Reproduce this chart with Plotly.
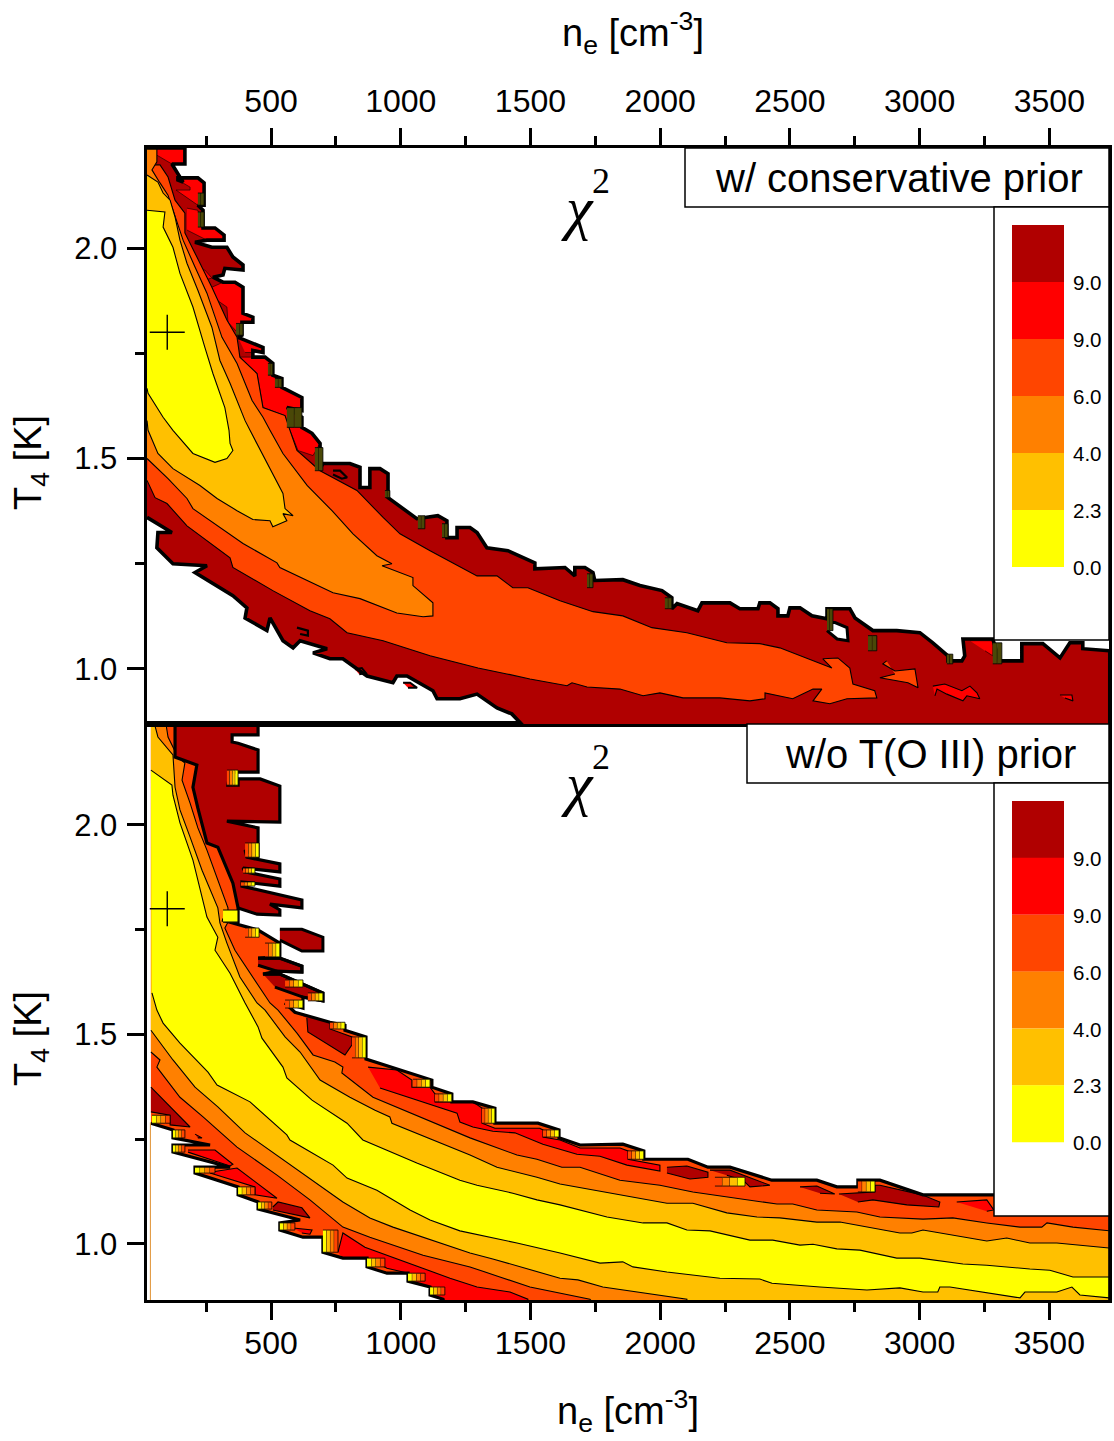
import plotly.graph_objects as go

# ---------- readings from the figure: (n_e, T4) outlines of each chi-square region ----------
NE_RANGE = [20, 3730]
T_RANGE_TOP = [0.869, 2.238]
T_RANGE_BOT = [0.866, 2.241]
COLORS = ["#B00000", "#FF0000", "#FF4500", "#FF8000", "#FFC000", "#FFFF00"]
LEGEND_LABELS = ["9.0", "9.0", "6.0", "4.0", "2.3", "0.0"]
X_TICKS = [500, 1000, 1500, 2000, 2500, 3000, 3500]
Y_TICKS = [1.0, 1.5, 2.0]
CROSS_NE = [100]
CROSS_T = [1.8]

TOP_OUTER = [(22,2.238),(168,2.238),(168,2.200),(118,2.200),(161,2.157),(141,2.162),(141,2.167),(218,2.167),(242,2.155),(242,2.102),
 (218,2.102),(238,2.090),(238,2.048),(284,2.048),(319,2.031),(319,2.019),(253,2.019),(207,2.014),(272,2.002),(330,2.002),(353,1.979),
 (392,1.960),(392,1.948),(322,1.952),(315,1.936),(276,1.931),(315,1.919),(361,1.919),(392,1.907),(392,1.845),(430,1.836),(430,1.824),
 (388,1.824),(388,1.793),(373,1.788),(469,1.764),(469,1.752),(430,1.757),(430,1.741),(477,1.741),(507,1.726),(507,1.698),(542,1.690),
 (542,1.669),(619,1.645),(619,1.614),(561,1.621),(619,1.598),(619,1.574),(658,1.560),(689,1.536),(689,1.476),(700,1.488),(804,1.488),
 (843,1.479),(843,1.431),(881,1.431),(881,1.476),(920,1.476),(951,1.464),(951,1.407),(1062,1.357),(1143,1.364),(1178,1.352),(1178,1.312),
 (1217,1.312),(1217,1.336),(1267,1.336),(1294,1.324),(1332,1.288),(1413,1.281),(1517,1.252),(1517,1.238),(1633,1.241),(1671,1.221),
 (1671,1.241),(1710,1.241),(1741,1.229),(1748,1.210),(1856,1.212),(1922,1.198),(2007,1.186),(2045,1.169),(2045,1.143),(2065,1.155),
 (2145,1.138),(2161,1.157),(2269,1.157),(2307,1.143),(2377,1.143),(2384,1.157),(2423,1.157),(2454,1.143),(2454,1.126),(2492,1.126),
 (2500,1.145),(2539,1.145),(2585,1.126),(2643,1.119),(2643,1.143),(2731,1.143),(2751,1.121),(2820,1.091),(2912,1.091),(3001,1.086),
 (3051,1.062),(3109,1.031),(3109,1.019),(3163,1.019),(3174,1.031),(3167,1.071),(3282,1.071),(3309,1.019),(3394,1.019),(3394,1.060),
 (3475,1.060),(3541,1.026),(3579,1.062),(3629,1.062),(3629,1.048),(3733,1.043),(3733,0.84),(1510,0.84),(1428,0.893),(1371,0.907),
 (1294,0.940),(1228,0.929),(1140,0.929),(1124,0.948),(1024,0.983),(985,0.983),(970,0.967),(870,0.983),(777,1.024),(727,1.024),
 (662,1.038),(716,1.048),(612,1.067),(585,1.050),(546,1.067),(496,1.121),(484,1.091),(400,1.121),(407,1.145),(353,1.174),(207,1.229),
 (253,1.245),(122,1.250),(60,1.288),(64,1.324),(118,1.324),(22,1.360)]
TOP_RED_A = [(60,2.238),(168,2.238),(168,2.200),(118,2.200),(60,2.221)]
TOP_RED_B = [(141,2.167),(218,2.167),(242,2.155),(242,2.102),(218,2.102),(134,2.138),(188,2.138),(188,2.145),(141,2.162)]
TOP_RED_C = [(176,2.095),(218,2.090),(234,2.048),(284,2.048),(319,2.031),(319,2.019),(253,2.019),(176,2.043)]
TOP_RED_D = [(272,1.907),(315,1.919),(361,1.919),(392,1.907),(392,1.845),(430,1.836),(430,1.824),(388,1.824),(373,1.798),(334,1.824),(330,1.860),(276,1.883)]
TOP_RED_E = [(373,1.788),(469,1.764),(469,1.752),(400,1.752)]
TOP_RED_F = [(380,1.741),(477,1.741),(507,1.726),(507,1.698),(542,1.690),(542,1.669),(619,1.645),(619,1.614),(561,1.621),(619,1.598),
 (619,1.574),(658,1.560),(689,1.536),(662,1.507),(604,1.519),(573,1.567),(554,1.602),(469,1.621),(446,1.702)]
TOP_RED_G = [(203,1.948),(245,1.948),(272,1.929),(245,1.924)]
TOP_RED_H = [(3194,1.067),(3282,1.067),(3282,1.031),(3252,1.043)]
TOP_ORANGERED = [(41,2.198),(72,2.198),(103,2.169),(130,2.114),(168,2.083),(168,2.036),(207,1.988),(245,1.940),(272,1.907),(330,1.829),
 (369,1.788),(380,1.741),(446,1.702),(469,1.621),(554,1.602),(573,1.567),(600,1.519),(689,1.471),(831,1.424),(932,1.360),(997,1.321),
 (1113,1.281),(1228,1.243),(1294,1.221),(1371,1.221),(1432,1.193),(1490,1.193),(1614,1.162),(1741,1.136),(1856,1.126),(1968,1.098),
 (2103,1.086),(2257,1.062),(2384,1.060),(2461,1.050),(2539,1.031),(2662,1.002),(2627,1.024),(2685,1.026),(2731,1.002),(2743,0.964),
 (2827,0.948),(2835,0.931),(2720,0.929),(2654,0.917),(2589,0.924),(2623,0.952),(2589,0.952),(2511,0.929),(2404,0.943),(2404,0.929),
 (2346,0.924),(2230,0.931),(2088,0.931),(1999,0.943),(1934,0.936),(1845,0.952),(1718,0.957),(1660,0.967),(1641,0.960),(1498,0.976),
 (1409,0.988),(1298,1.002),(1113,1.031),(932,1.067),(793,1.086),(727,1.119),(650,1.138),(507,1.186),(353,1.241),(342,1.264),(176,1.340),
 (99,1.393),(53,1.407),(22,1.448)]
TOP_ORANGE = [(22,2.238),(60,2.238),(60,2.205),(41,2.186),(72,2.155),(103,2.126),(118,2.098),(161,2.019),(207,1.955),(253,1.893),(311,1.788),
 (369,1.726),(427,1.638),(469,1.598),(496,1.567),(546,1.512),(639,1.436),(735,1.376),(816,1.321),(908,1.269),(966,1.250),(928,1.245),
 (1047,1.217),(1047,1.198),(1124,1.157),(1124,1.126),(1086,1.124),(985,1.133),(843,1.167),(739,1.181),(534,1.241),(523,1.252),(392,1.298),
 (303,1.336),(199,1.381),(176,1.405),(103,1.452),(22,1.500)]
TOP_GOLD = [(22,2.174),(64,2.157),(84,2.131),(111,2.114),(130,2.074),(149,2.019),(176,1.964),(218,1.900),(272,1.812),(303,1.733),(342,1.679),
 (400,1.590),(419,1.567),(484,1.491),(546,1.417),(554,1.381),(585,1.364),(546,1.369),(561,1.352),(507,1.338),(496,1.352),(430,1.355),
 (369,1.376),(292,1.405),(226,1.436),(122,1.476),(64,1.512),(26,1.567),(22,1.590)]
TOP_YELLOW = [(22,2.090),(91,2.086),(84,2.050),(122,2.002),(149,1.940),(199,1.860),(245,1.764),(276,1.702),(322,1.621),(338,1.567),(342,1.536),
 (353,1.519),(330,1.500),(284,1.491),(199,1.512),(122,1.567),(84,1.598),(26,1.655),(22,1.667)]
TOP_ISLE_OR = [(2873,1.019),(2858,1.012),(2905,0.995),(2982,1.000),(2994,0.955),(2955,0.967),(2847,0.979),(2905,0.988)]
TOP_ISLE_RA = [(3051,0.959),(3097,0.964),(3163,0.948),(3194,0.959),(3221,0.943),(3232,0.929),(3182,0.936),(3167,0.924),(3105,0.940),(3067,0.952),(3059,0.936)]
TOP_ISLE_RB = [(3541,0.938),(3587,0.938),(3591,0.924),(3560,0.931)]
TOP_HOLE = [(2643,1.110),(2674,1.110),(2720,1.098),(2724,1.067),(2682,1.071),(2643,1.091)]
TOP_SPOT_DARK = [[(739,1.471),(766,1.471),(793,1.455),(773,1.452),(739,1.462)], [(600,1.098),(642,1.091),(642,1.079),(612,1.083)]]
TOP_SPOT_RED = [[(823,0.999),(850,1.002),(866,0.990),(840,0.987)], [(1009,0.967),(1036,0.967),(1063,0.955),(1028,0.955)]]
# stacks of closely spaced contours on the ragged edge: (n_e left, n_e right, T upper, T lower)
TOP_STACK = [(218,242,2.131,2.102),(218,242,2.086,2.050),(365,392,1.821,1.793),(488,507,1.726,1.698),(515,542,1.690,1.669),(561,619,1.621,1.574),
 (669,700,1.526,1.471),(939,958,1.424,1.407),(1066,1093,1.364,1.333),(1159,1182,1.345,1.312),(2018,2045,1.169,1.143),(1718,1741,1.226,1.193),
 (2643,2666,1.143,1.091),(2801,2835,1.079,1.043),(3105,3128,1.035,1.012),(3282,3317,1.062,1.012)]

BOT_BASE = [(37,2.241),(130,2.241),(130,2.162),(214,2.143),(199,2.090),(218,2.040),(253,1.957),(295,1.947),(353,1.861),(373,1.802),(373,1.768),
 (311,1.773),(380,1.761),(450,1.749),(534,1.718),(534,1.685),(450,1.682),(534,1.682),(619,1.663),(619,1.649),(523,1.651),(469,1.644),
 (534,1.644),(700,1.599),(700,1.580),(623,1.589),(623,1.563),(554,1.575),(592,1.553),(727,1.529),(785,1.522),(785,1.510),(866,1.494),
 (866,1.441),(1120,1.391),(1120,1.374),(1197,1.358),(1197,1.339),(1278,1.339),(1363,1.324),(1363,1.288),(1529,1.288),(1610,1.272),
 (1610,1.253),(1691,1.236),(1856,1.238),(1937,1.222),(1937,1.202),(2107,1.202),(2184,1.183),(2269,1.183),(2430,1.152),(2604,1.152),
 (2681,1.136),(2762,1.136),(2762,1.152),(2847,1.152),(3013,1.117),(3733,1.117),(3733,0.84),(1174,0.84),(1163,0.868),(1113,0.878),
 (1113,0.897),(1028,0.911),(1028,0.930),(947,0.930),(870,0.945),(870,0.966),(777,0.966),(700,0.980),(700,1.016),(623,1.016),(534,1.033),
 (534,1.050),(612,1.057),(450,1.083),(450,1.100),(373,1.117),(373,1.136),(207,1.169),(207,1.183),(342,1.183),(122,1.219),(122,1.236),
 (265,1.236),(122,1.253),(122,1.272),(37,1.288)]
BOT_DARK_MAIN = [(130,2.241),(450,2.241),(450,2.215),(350,2.215),(350,2.198),(373,2.195),(450,2.179),(450,2.126),(342,2.126),(334,2.095),
 (373,2.095),(373,2.110),(458,2.110),(534,2.093),(534,2.007),(330,2.009),(450,1.993),(450,1.923),(400,1.940),(407,1.923),(534,1.907),
 (534,1.888),(392,1.897),(400,1.888),(534,1.871),(534,1.854),(388,1.864),(388,1.854),(619,1.821),(619,1.802),(496,1.811),(534,1.797),
 (534,1.785),(446,1.787),(373,1.802),(353,1.861),(295,1.947),(253,1.957),(218,2.040),(199,2.090),(214,2.143),(130,2.162)]
BOT_DARK_A = [(534,1.751),(619,1.751),(700,1.732),(700,1.699),(619,1.699),(534,1.725)]
BOT_DARK_B = [(450,1.682),(534,1.682),(619,1.663),(619,1.649),(523,1.651),(450,1.665)]
BOT_DARK_C = [(469,1.644),(534,1.644),(700,1.599),(700,1.580),(623,1.589),(515,1.613)]
BOT_DARK_D = [(592,1.553),(727,1.529),(727,1.513),(812,1.494),(812,1.475),(785,1.451),(642,1.506),(638,1.539)]
BOT_DARK_E = [(2026,1.183),(2103,1.186),(2184,1.171),(2184,1.159),(2115,1.155),(2026,1.169)]
BOT_DARK_F = [(2192,1.176),(2269,1.176),(2423,1.140),(2346,1.136),(2319,1.152),(2257,1.164)]
BOT_DARK_G = [(2539,1.136),(2604,1.138),(2673,1.119),(2616,1.121)]
BOT_DARK_H = [(2689,1.119),(2828,1.124),(2828,1.140),(2847,1.140),(3009,1.117),(3078,1.100),(3074,1.088),(2951,1.093),(2820,1.105),(2762,1.100)]
BOT_DARK_I = [(37,1.374),(188,1.279),(111,1.284),(111,1.307),(37,1.315)]
BOT_DARK_J = [(207,1.262),(234,1.253),(218,1.253)]
BOT_DARK_K = [(507,1.088),(527,1.100),(619,1.086),(650,1.062),(507,1.081)]
BOT_RED_A = [(874,1.422),(985,1.415),(1043,1.391),(1043,1.374),(1113,1.374),(1132,1.358),(1132,1.339),(1278,1.339),(1313,1.324),(1313,1.288),
 (1363,1.276),(1536,1.276),(1548,1.272),(1548,1.255),(1614,1.248),(1691,1.229),(1845,1.229),(1876,1.222),(1876,1.202),(1999,1.188),
 (1999,1.174),(1872,1.188),(1768,1.209),(1679,1.214),(1548,1.238),(1440,1.265),(1355,1.269),(1278,1.279),(1228,1.291),(1217,1.312),(920,1.372)]
BOT_RED_B = [(180,1.224),(284,1.224),(353,1.190),(342,1.186),(180,1.219)]
BOT_RED_C = [(265,1.171),(369,1.181),(523,1.109),(438,1.117),(438,1.136),(265,1.169)]
BOT_RED_D = [(585,1.038),(658,1.033),(650,1.023),(619,1.026)]
BOT_RED_E = [(758,0.980),(777,1.026),(862,0.992),(997,0.962),(1190,0.918),(1294,0.897),(1421,0.885),(1490,0.868),(1490,0.84),(1163,0.84),
 (1163,0.868),(1113,0.878),(1113,0.897),(1028,0.911),(1028,0.930),(947,0.942),(870,0.966),(777,0.966)]
BOT_RED_F = [(3143,1.100),(3259,1.105),(3286,1.081),(3259,1.078)]
BOT_ORANGE = [(37,2.241),(95,2.241),(103,2.210),(122,2.184),(141,2.162),(168,2.148),(157,2.107),(188,2.052),(218,1.993),(253,1.940),(334,1.802),
 (334,1.768),(322,1.754),(361,1.701),(438,1.630),(496,1.575),(527,1.558),(600,1.503),(662,1.451),(746,1.434),(777,1.422),(773,1.408),
 (893,1.350),(1267,1.253),(1448,1.212),(1525,1.202),(1621,1.183),(1691,1.183),(1845,1.152),(1999,1.140),(2126,1.124),(2334,1.105),
 (2450,1.095),(2511,1.095),(2604,1.081),(2758,1.076),(2847,1.064),(3013,1.059),(3128,1.062),(3259,1.050),(3387,1.040),(3471,1.040),
 (3491,1.050),(3591,1.040),(3733,1.031),(3733,0.84),(1768,0.84),(1729,0.868),(1498,0.897),(1382,0.921),(1267,0.945),(1086,0.973),
 (881,1.016),(777,1.040),(650,1.105),(523,1.164),(369,1.231),(238,1.303),(149,1.350),(60,1.422),(72,1.439),(37,1.458)]
BOT_GOLD = [(37,2.241),(53,2.236),(64,2.210),(122,2.167),(130,2.090),(149,2.036),(188,1.971),(234,1.892),(295,1.802),(303,1.766),(330,1.718),
 (380,1.637),(446,1.575),(477,1.558),(554,1.494),(612,1.458),(689,1.391),(804,1.350),(901,1.319),(958,1.303),(966,1.288),(1267,1.212),
 (1371,1.183),(1525,1.159),(1614,1.143),(1856,1.117),(2026,1.097),(2126,1.097),(2257,1.074),(2373,1.064),(2461,1.062),(2604,1.052),
 (2693,1.052),(2924,1.026),(2970,1.026),(3013,1.033),(3259,1.007),(3336,1.014),(3425,1.002),(3529,1.002),(3733,0.990),(3733,0.84),
 (2103,0.84),(2103,0.868),(2049,0.873),(1779,0.897),(1683,0.914),(1614,0.918),(1355,0.964),(1267,0.978),(970,1.040),(881,1.062),
 (777,1.100),(658,1.152),(496,1.224),(400,1.265),(295,1.327),(207,1.374),(122,1.439),(37,1.510)]
BOT_YELLOW = [(37,2.131),(118,2.095),(122,2.071),(149,2.005),(199,1.916),(245,1.804),(253,1.780),(295,1.732),(284,1.701),(342,1.646),(400,1.575),
 (450,1.518),(465,1.491),(546,1.422),(561,1.396),(658,1.343),(793,1.288),(854,1.248),(1062,1.193),(1228,1.152),(1294,1.140),(1432,1.121),
 (1525,1.105),(1614,1.093),(1795,1.064),(1934,1.050),(2026,1.050),(2103,1.033),(2192,1.031),(2346,1.009),(2434,1.009),(2539,0.997),
 (2589,0.999),(2681,0.988),(2770,0.985),(2912,0.966),(3001,0.966),(3167,0.952),(3259,0.949),(3425,0.940),(3502,0.937),(3591,0.921),
 (3733,0.921),(3733,0.871),(3618,0.878),(3587,0.897),(3529,0.885),(3406,0.885),(3387,0.871),(3117,0.897),(3078,0.897),(3070,0.885),
 (3013,0.885),(2924,0.895),(2797,0.890),(2616,0.897),(2431,0.906),(2384,0.916),(2230,0.918),(2026,0.933),(1895,0.945),(1856,0.957),
 (1768,0.954),(1614,0.978),(1448,1.002),(1228,1.031),(1113,1.057),(1036,1.081),(985,1.100),(908,1.128),(793,1.157),(758,1.176),
 (739,1.188),(639,1.224),(573,1.248),(561,1.260),(419,1.339),(292,1.379),(257,1.410),(149,1.479),(84,1.527),(60,1.558),(41,1.599)]
# stepped stacks of contours along the ragged edge: (n_e left, n_e right, T upper, T lower)
BOT_STACK_LOWER = [(41,111,1.307,1.288),(122,168,1.272,1.253),(122,168,1.236,1.219),(207,284,1.183,1.169),(373,438,1.136,1.117),
 (450,503,1.100,1.083),(534,592,1.050,1.033),(700,758,1.033,0.980),(870,939,0.966,0.945),(1028,1094,0.930,0.911),(1113,1170,0.897,0.878)]
BOT_STACK_UPPER = [(727,785,1.529,1.513),(812,866,1.494,1.444),(1047,1113,1.393,1.374),(1132,1197,1.358,1.339),(1313,1363,1.324,1.288),
 (1548,1610,1.272,1.255),(1876,1937,1.222,1.202),(2762,2828,1.150,1.124),(2211,2327,1.159,1.138),(330,373,2.131,2.095),(400,454,1.957,1.923),
 (392,438,1.897,1.885),(384,438,1.864,1.854),(400,454,1.754,1.732),(477,534,1.718,1.685),(554,623,1.630,1.613),(642,700,1.599,1.580),(554,623,1.582,1.563)]
BOT_YELLOW_BOX = [(315,1.797),(373,1.797),(373,1.768),(315,1.768)]
BOT_EDGE_NE = [35, 35]
BOT_EDGE_T = [1.29, 0.86]

# ---------- layout constants (pixels of the 1114 x 1441 page) ----------
W, H = 1114, 1441
def px(x): return x / W
def py(y): return 1 - y / H
FONT = "Liberation Sans, Arial, sans-serif"
SERIF = "Liberation Serif, Times New Roman, serif"

fig = go.Figure()

def poly(pts, color, xa, ya, lw=1.1):
    fig.add_trace(go.Scatter(x=[p[0] for p in pts], y=[p[1] for p in pts], mode="lines", fill="toself", fillcolor=color,
                             line=dict(color="black", width=lw), xaxis=xa, yaxis=ya, hoverinfo="skip", showlegend=False))

def edge(pts, xa, ya, lw=3):
    fig.add_trace(go.Scatter(x=[p[0] for p in pts], y=[p[1] for p in pts], mode="lines",
                             line=dict(color="black", width=lw), xaxis=xa, yaxis=ya, hoverinfo="skip", showlegend=False))

def stack(item, order, xa, ya):
    left, right, tu, tl = item
    n = len(order)
    for i, c in enumerate(order):
        a = left + (right - left) * i / n
        b = left + (right - left) * (i + 1) / n
        poly([(a, tu), (b, tu), (b, tl), (a, tl)], c, xa, ya, lw=0.8)

DARK, RED, OR, ORG, GOLD, YEL = COLORS
OLIVE = "#4A4808"

# top panel
A = ("x2", "y")
poly(TOP_OUTER, DARK, *A, lw=0)
for p in (TOP_RED_A, TOP_RED_B, TOP_RED_C, TOP_RED_D, TOP_RED_E, TOP_RED_F, TOP_RED_G, TOP_RED_H):
    poly(p, RED, *A, lw=0.6)
poly(TOP_ORANGERED, OR, *A)
poly(TOP_ORANGE, ORG, *A)
poly(TOP_GOLD, GOLD, *A)
poly(TOP_YELLOW, YEL, *A)
poly(TOP_ISLE_OR, OR, *A)
poly(TOP_ISLE_RA, RED, *A)
poly(TOP_ISLE_RB, RED, *A)
for p in TOP_SPOT_DARK:
    poly(p, DARK, *A, lw=2.2)
for p in TOP_SPOT_RED:
    poly(p, RED, *A, lw=2)
edge(TOP_OUTER, *A, lw=3.6)
poly(TOP_HOLE, "white", *A, lw=3)
for it in TOP_STACK:
    stack(it, [OLIVE, OLIVE], *A)

# bottom panel
B = ("x", "y2")
poly(BOT_BASE, OR, *B, lw=0)
for p in (BOT_RED_A, BOT_RED_B, BOT_RED_C, BOT_RED_D, BOT_RED_E, BOT_RED_F):
    poly(p, RED, *B)
for p in (BOT_DARK_D, BOT_DARK_E, BOT_DARK_F, BOT_DARK_G, BOT_DARK_H, BOT_DARK_I, BOT_DARK_J, BOT_DARK_K):
    poly(p, DARK, *B)
poly(BOT_ORANGE, ORG, *B)
poly(BOT_GOLD, GOLD, *B)
poly(BOT_YELLOW, YEL, *B)
poly(BOT_DARK_MAIN, DARK, *B)
for p in (BOT_DARK_A, BOT_DARK_B, BOT_DARK_C):
    poly(p, DARK, *B, lw=3)
edge(BOT_BASE[1:], *B, lw=3.2)
edge(BOT_DARK_MAIN[:35], *B, lw=3.2)
for it in BOT_STACK_LOWER:
    stack(it, [YEL, GOLD, ORG, OR], *B)
for it in BOT_STACK_UPPER:
    stack(it, [OR, ORG, GOLD, YEL], *B)
poly(BOT_YELLOW_BOX, YEL, *B, lw=1.2)
fig.add_trace(go.Scatter(x=BOT_EDGE_NE, y=BOT_EDGE_T, mode="lines", line=dict(color="#E09030", width=1),
                         xaxis="x", yaxis="y2", hoverinfo="skip", showlegend=False))

# best-fit crosses
for xa, ya in (A, B):
    fig.add_trace(go.Scatter(x=CROSS_NE, y=CROSS_T, mode="markers",
                             marker=dict(symbol="cross-thin", size=25, line=dict(color="black", width=1.4)),
                             xaxis=xa, yaxis=ya, hoverinfo="skip", showlegend=False))

common = dict(showgrid=False, zeroline=False, showline=True, linecolor="black", linewidth=3, mirror=True, ticks="outside",
              tickcolor="black", tickwidth=2.5, ticklen=17)
xcommon = dict(common, range=NE_RANGE, tickmode="array", tickvals=X_TICKS, ticktext=[str(v) for v in X_TICKS],
               domain=[px(146.5), px(1109)], tickfont=dict(family=FONT, size=32, color="black"),
               minor=dict(tickmode="linear", tick0=250, dtick=500, ticks="outside", ticklen=9, tickwidth=2.5, tickcolor="black"))
ycommon = dict(common, tickmode="array", tickvals=Y_TICKS, ticktext=[f"{v:.1f}" for v in Y_TICKS],
               tickfont=dict(family=FONT, size=31, color="black"),
               minor=dict(tickmode="linear", tick0=1.25, dtick=0.5, ticks="outside", ticklen=9, tickwidth=2.5, tickcolor="black"),
               ticklabelstandoff=3)

shapes, ann = [], []

def rect(x0, y0, x1, y1, fill, lw=0):
    shapes.append(dict(type="rect", xref="paper", yref="paper", x0=px(x0), x1=px(x1), y0=py(y1), y1=py(y0),
                       fillcolor=fill, line=dict(color="black", width=lw)))

def text(x, y, s, size, family=FONT, **kw):
    ann.append(dict(xref="paper", yref="paper", x=px(x), y=py(y), text=s, showarrow=False, xanchor="center", yanchor="middle",
                    font=dict(family=family, size=size, color="black"), **kw))

for dy, tx0, title in ((0, 685, "w/ conservative prior"), (576, 747, "w/o T(O III) prior")):
    rect(tx0, 148 + dy, 1109, 207 + dy, "white", 1.5)
    rect(994, 207 + dy, 1109, 640 + dy, "white", 1.5)
    text((tx0 + 1109) / 2 + 2, 178 + dy, title, 40)
    text(577, 208 + dy, "<i>χ</i>", 60, SERIF)
    text(601, 181 + dy, "2", 36, SERIF)
    for i, (c, lab) in enumerate(zip(COLORS, LEGEND_LABELS)):
        y0 = 225 + dy + i * 57 - (0 if dy == 0 else i * 0.15)
        rect(1012, y0, 1064, y0 + 57, c)
        text(1087.5, y0 + 57.5, lab, 20.5)
    text(31, 463 + dy, "T<sub>4</sub> [K]", 38, textangle=-90)

text(633, 33, "n<sub>e</sub> [cm<sup>-3</sup>]", 38)
text(628, 1411, "n<sub>e</sub> [cm<sup>-3</sup>]", 38)

fig.update_layout(
    width=W, height=H, autosize=False, margin=dict(l=0, r=0, t=0, b=0), paper_bgcolor="white", plot_bgcolor="white",
    showlegend=False, shapes=shapes, annotations=ann,
    xaxis=dict(xcommon, anchor="y2", side="bottom", ticklabelstandoff=-4),
    xaxis2=dict(xcommon, anchor="y", side="top", ticklabelstandoff=3),
    yaxis=dict(ycommon, range=T_RANGE_TOP, anchor="x2", domain=[py(724), py(148)]),
    yaxis2=dict(ycommon, range=T_RANGE_BOT, anchor="x", domain=[py(1300), py(724)]),
)

fig.write_html("out.html", config=dict(displayModeBar=False),
               post_script="document.body.style.margin='0';document.body.style.overflow='hidden';")
